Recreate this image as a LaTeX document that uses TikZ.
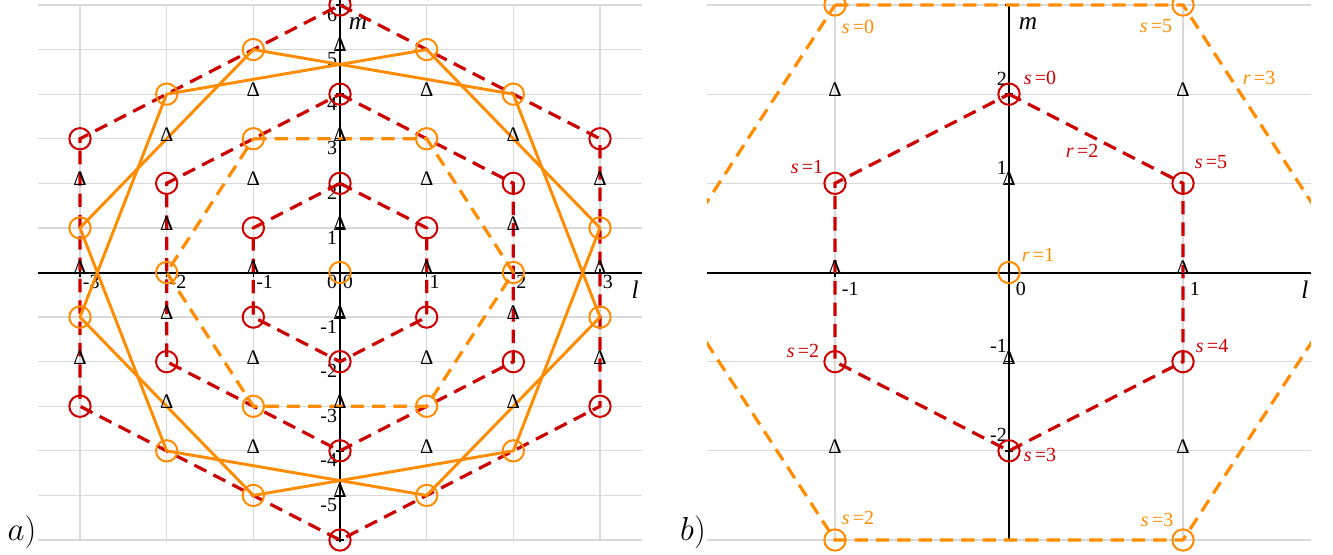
\documentclass[tikz,border=0pt]{standalone}
\usepackage{fontspec}
\setmainfont{Liberation Serif}
\definecolor{myred}{RGB}{204,0,0}
\definecolor{myorange}{RGB}{255,140,0}
\definecolor{gridgray}{RGB}{217,217,217}
\tikzset{
  gridline/.style={draw=gridgray, line width=0.9pt},
  axisline/.style={draw=black, line width=1.5pt},
  reddash/.style={draw=myred, line width=2.4pt, dash pattern=on 10pt off 6pt},
  orangedash/.style={draw=myorange, line width=2.4pt, dash pattern=on 10pt off 6pt},
  orangesolid/.style={draw=myorange, line width=2.2pt, line join=round},
  redring/.style={circle, draw=myred, line width=1.5pt, minimum size=16pt, inner sep=0pt},
  orangering/.style={circle, draw=myorange, line width=1.5pt, minimum size=16pt, inner sep=0pt},
  delta/.style={anchor=base, yshift=-1.8pt, inner sep=0pt, font=\fontsize{15.5}{18}\selectfont},
  ticklab/.style={font=\fontsize{15}{18}\selectfont, inner sep=2pt},
  axlab/.style={font=\fontsize{19}{22}\selectfont\itshape, inner sep=0pt},
  redlab/.style={text=myred, font=\fontsize{15}{18}\selectfont, inner sep=0pt},
  orangelab/.style={text=myorange, font=\fontsize{15}{18}\selectfont, inner sep=0pt},
  panellab/.style={font=\fontsize{28}{32}\selectfont, inner sep=0pt},
}
\newcommand{\eqlab}[2]{{\itshape #1}\,=#2}
\begin{document}
\begin{tikzpicture}
\useasboundingbox (0,0) rectangle (999.75pt,415.5pt);
\clip (0,0) rectangle (999.75pt,415.5pt);

% ================= panel a =================
\begin{scope}[shift={(255pt,211.125pt)}, x=65pt, y=33.44pt]
  \foreach \l in {-3,...,3} \draw[gridline] (\l,-6) -- (\l,6);
  \foreach \m in {-6,...,6} \draw[gridline] (-3.485,\m) -- (3.485,\m);
  \coordinate (aXl) at (-3.485,0); \coordinate (aXr) at (3.485,0);
  \coordinate (aYb) at (0,-6.05);  \coordinate (aYt) at (0,6.3);
  \draw[axisline] (aXl) -- (aXr);
  \draw[axisline] (aYb) -- (aYt);
  \foreach \l in {-3,...,3} \draw[black, line width=1pt] (\l,0) ++(0,-3pt) -- ++(0,6pt);
  \foreach \m in {-6,...,6} \draw[black, line width=1pt] (0,\m) ++(-3pt,0) -- ++(6pt,0);
  \foreach \l [count=\n] in {-3,...,3} \node[ticklab, anchor=north west] (alx\n) at (\l,0) {\l};
  \foreach \m [count=\n] in {-5,...,6} \node[ticklab, anchor=north east] (aly\n) at (0,\m) {\m};
  \node[axlab] (aLm) at (0.208,5.574) {m};
  \node[axlab] (aLl) at (3.404,-0.393) {l};

  % red hexagons
  \foreach \k in {1,2,3} {
    \node[redring] (aRa\k) at (0,2*\k) {};
    \node[redring] (aRb\k) at (\k,\k) {};
    \node[redring] (aRc\k) at (\k,-\k) {};
    \node[redring] (aRd\k) at (0,-2*\k) {};
    \node[redring] (aRe\k) at (-\k,-\k) {};
    \node[redring] (aRf\k) at (-\k,\k) {};
    \draw[reddash] (aRa\k.center) -- (aRb\k.center) -- (aRc\k.center) -- (aRd\k.center) -- (aRe\k.center) -- (aRf\k.center) -- cycle;
  }
  % orange centre and r=2 hexagon
  \node[orangering] (aO0) at (0,0) {};
  \node[orangering] (aOa) at (-1,3) {};
  \node[orangering] (aOb) at (1,3) {};
  \node[orangering] (aOc) at (2,0) {};
  \node[orangering] (aOd) at (1,-3) {};
  \node[orangering] (aOe) at (-1,-3) {};
  \node[orangering] (aOf) at (-2,0) {};
  \draw[orangedash] (aOa.center) -- (aOb.center) -- (aOc.center) -- (aOd.center) -- (aOe.center) -- (aOf.center) -- cycle;
  % orange r=3 : two hexagons
  \node[orangering] (aA1) at (-2,4) {};
  \node[orangering] (aA2) at (1,5) {};
  \node[orangering] (aA3) at (3,1) {};
  \node[orangering] (aA4) at (2,-4) {};
  \node[orangering] (aA5) at (-1,-5) {};
  \node[orangering] (aA6) at (-3,-1) {};
  \node[orangering] (aB1) at (-1,5) {};
  \node[orangering] (aB2) at (2,4) {};
  \node[orangering] (aB3) at (3,-1) {};
  \node[orangering] (aB4) at (1,-5) {};
  \node[orangering] (aB5) at (-2,-4) {};
  \node[orangering] (aB6) at (-3,1) {};
  \draw[orangesolid] (aA1.center) -- (aA2.center) -- (aA3.center) -- (aA4.center) -- (aA5.center) -- (aA6.center) -- cycle;
  \draw[orangesolid] (aB1.center) -- (aB2.center) -- (aB3.center) -- (aB4.center) -- (aB5.center) -- (aB6.center) -- cycle;
  % triangles
  \foreach \p [count=\n] in {(3,2),(3,0),(3,-2),(-3,2),(-3,0),(-3,-2),(2,3),(2,1),(2,-1),(2,-3),(-2,3),(-2,1),(-2,-1),(-2,-3),(1,4),(1,2),(1,0),(1,-2),(1,-4),(-1,4),(-1,2),(-1,0),(-1,-2),(-1,-4),(0,5),(0,3),(0,1),(0,-1),(0,-3),(0,-5)}
    \node[delta] (aT\n) at \p {Δ};
\end{scope}
\node[panellab] (labA) at (16.5pt,16pt) {$a)$};

% ================= panel b =================
\begin{scope}[shift={(756.75pt,211.125pt)}, x=130.5pt, y=66.875pt]
  \foreach \l in {-1,0,1} \draw[gridline] (\l,-3) -- (\l,3);
  \foreach \m in {-3,...,3} \draw[gridline] (-1.735,\m) -- (1.735,\m);
  \coordinate (bXl) at (-1.735,0); \coordinate (bXr) at (1.735,0);
  \coordinate (bYb) at (0,-3);     \coordinate (bYt) at (0,3);
  \draw[axisline] (bXl) -- (bXr);
  \draw[axisline] (bYb) -- (bYt);
  \foreach \l in {-1,0,1} \draw[black, line width=1pt] (\l,0) ++(0,-3pt) -- ++(0,6pt);
  \foreach \m in {-3,...,3} \draw[black, line width=1pt] (0,\m) ++(-3pt,0) -- ++(6pt,0);
  \foreach \l [count=\n] in {-1,0,1} \node[ticklab, anchor=north west, inner sep=1.5pt, xshift=3.5pt, yshift=-5.5pt] (blx\n) at (\l,0) {\l};
  \foreach \m [count=\n] in {-2,-1,1,2} \node[ticklab, anchor=south east, inner sep=1.5pt, yshift=5pt] (bly\n) at (0,\m) {\m};
  \node[axlab] (bLm) at (0.109,2.787) {m};
  \node[axlab] (bLl) at (1.701,-0.196) {l};

  \node[redring] (bRa) at (0,2) {};
  \node[redring] (bRb) at (1,1) {};
  \node[redring] (bRc) at (1,-1) {};
  \node[redring] (bRd) at (0,-2) {};
  \node[redring] (bRe) at (-1,-1) {};
  \node[redring] (bRf) at (-1,1) {};
  \draw[reddash] (bRa.center) -- (bRb.center) -- (bRc.center) -- (bRd.center) -- (bRe.center) -- (bRf.center) -- cycle;

  \node[orangering] (bO0) at (0,0) {};
  \node[orangering] (bOa) at (-1,3) {};
  \node[orangering] (bOb) at (1,3) {};
  \node[orangering] (bOc) at (1,-3) {};
  \node[orangering] (bOd) at (-1,-3) {};
  \coordinate (bPr) at (2,0);
  \coordinate (bPl) at (-2,0);
  \begin{scope}
    \clip (-1.735,-4) rectangle (1.735,4);
    \draw[orangedash] (bOa.center) -- (bOb.center) -- (bPr) -- (bOc.center) -- (bOd.center) -- (bPl) -- cycle;
  \end{scope}

  \foreach \p [count=\n] in {(-1,2),(1,2),(0,1),(-1,0),(1,0),(0,-1),(-1,-2),(1,-2)}
    \node[delta] (bT\n) at \p {Δ};

  \node[redlab] (bs0) at (0.178,2.181) {\eqlab{s}{0}};
  \node[redlab] (bs1) at (-1.161,1.183) {\eqlab{s}{1}};
  \node[redlab] (bs5) at (1.161,1.239) {\eqlab{s}{5}};
  \node[redlab] (br2) at (0.420,1.363) {\eqlab{r}{2}};
  \node[redlab] (bs2) at (-1.184,-0.880) {\eqlab{s}{2}};
  \node[redlab] (bs4) at (1.167,-0.824) {\eqlab{s}{4}};
  \node[redlab] (bs3) at (0.178,-2.047) {\eqlab{s}{3}};
  \node[orangelab] (or1) at (0.167,0.196) {\eqlab{r}{1}};
  \node[orangelab] (os5) at (0.845,2.764) {\eqlab{s}{5}};
  \node[orangelab] (or3) at (1.437,2.181) {\eqlab{r}{3}};
  \node[orangelab] (os0) at (-0.868,2.753) {\eqlab{s}{0}};
  \node[orangelab] (os2) at (-0.868,-2.753) {\eqlab{s}{2}};
  \node[orangelab] (os3) at (0.851,-2.776) {\eqlab{s}{3}};
\end{scope}
\node[panellab] (labB) at (519.75pt,16pt) {$b)$};
\end{tikzpicture}
\end{document}
